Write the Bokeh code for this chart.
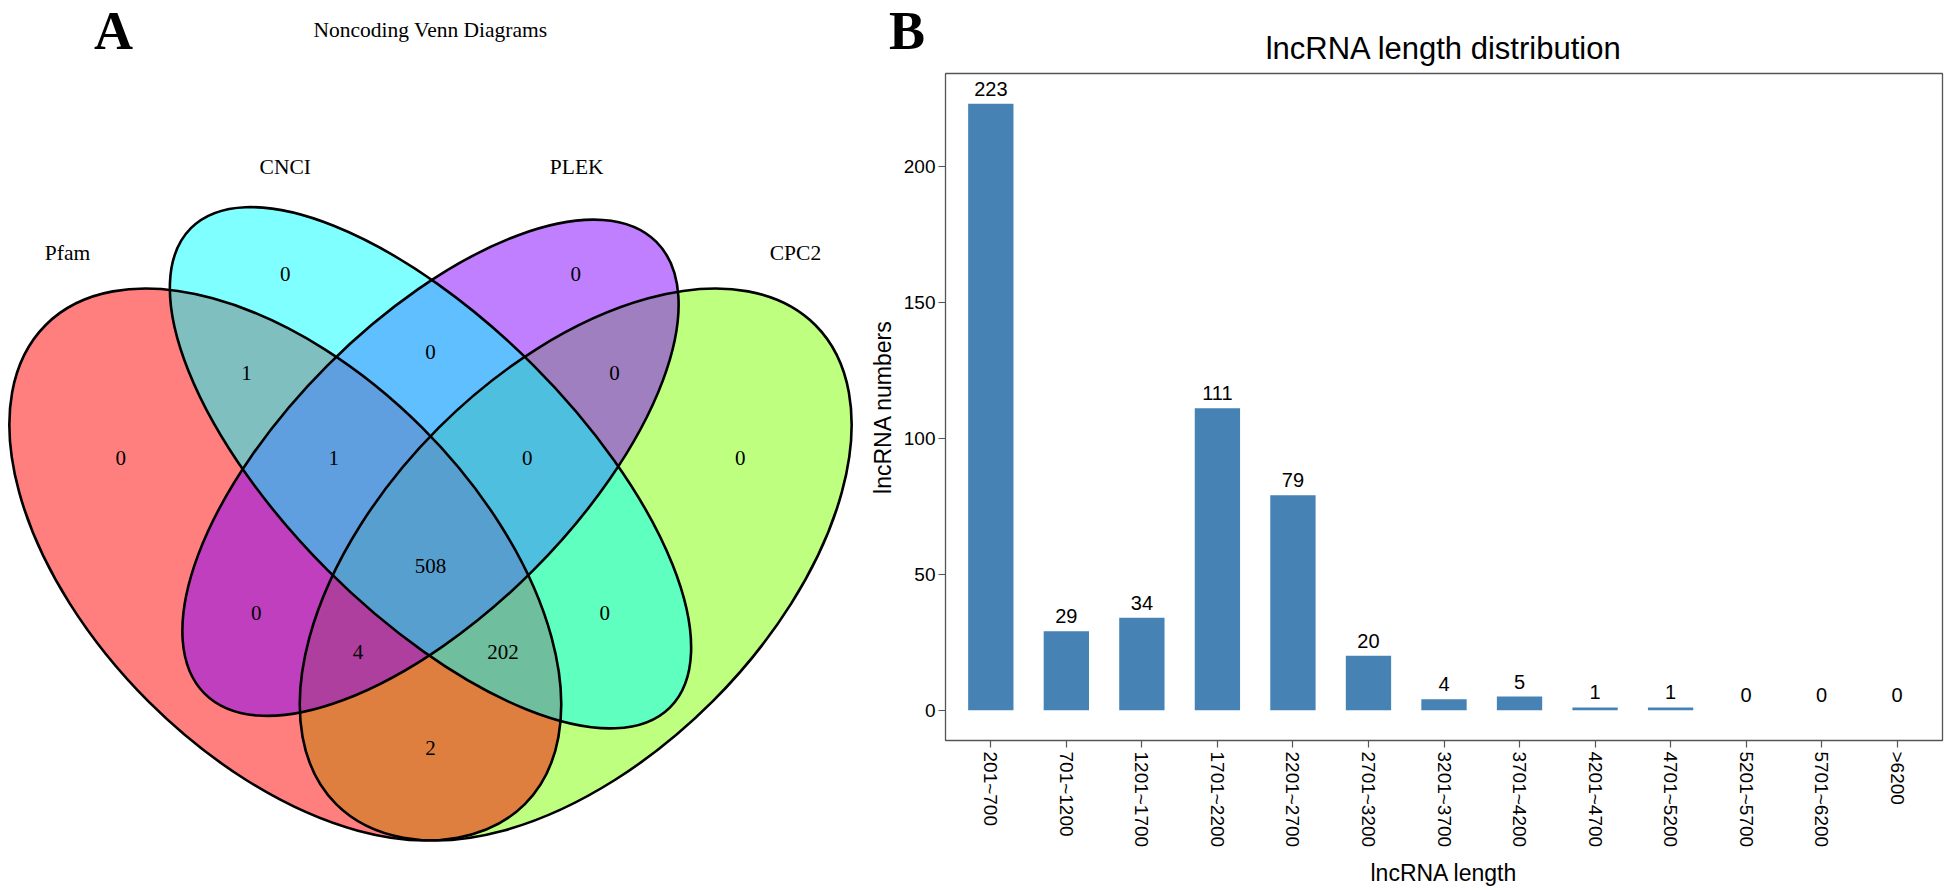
import math
from bokeh.plotting import figure
from bokeh.models import Range1d, FactorRange, FixedTicker, ColumnDataSource
from bokeh.embed import file_html
from bokeh.resources import INLINE
from bokeh.core.properties import value

# ---------------- data ----------------
venn_sets = ["Pfam", "CNCI", "PLEK", "CPC2"]
venn_colors = ["#FF0000", "#00FFFF", "#8000FF", "#80FF00"]
region_members = ["CNCI", "CNCI&PLEK", "PLEK", "Pfam&CNCI", "Pfam&CNCI&PLEK",
                  "Pfam&CNCI&PLEK&CPC2", "CNCI&PLEK&CPC2", "PLEK&CPC2", "Pfam",
                  "Pfam&PLEK", "Pfam&PLEK&CPC2", "Pfam&CPC2", "Pfam&CNCI&CPC2",
                  "CNCI&CPC2", "CPC2"]
region_counts = [0, 0, 0, 1, 1, 508, 0, 0, 0, 0, 4, 2, 202, 0, 0]

length_bins = ["201~700", "701~1200", "1201~1700", "1701~2200", "2201~2700",
               "2701~3200", "3201~3700", "3701~4200", "4201~4700", "4701~5200",
               "5201~5700", "5701~6200", ">6200"]
lncrna_counts = [223, 29, 34, 111, 79, 20, 4, 5, 1, 1, 0, 0, 0]
y_ticks = [0, 50, 100, 150, 200]

# ---------------- layout constants (VennDiagram quad layout, unit coords) ----------------
ellipse_geom = {  # x, y, a, b, rotation(deg)
    "Pfam": (0.35, 0.47, 0.35, 0.20, 135),
    "CNCI": (0.50, 0.57, 0.35, 0.15, 135),
    "PLEK": (0.50, 0.57, 0.33, 0.15, 45),
    "CPC2": (0.65, 0.47, 0.35, 0.20, 45),
}
draw_order = ["CPC2", "Pfam", "PLEK", "CNCI"]
region_pos = [(0.350, 0.770), (0.500, 0.690), (0.650, 0.770), (0.310, 0.668),
              (0.400, 0.580), (0.500, 0.468), (0.600, 0.580), (0.690, 0.668),
              (0.180, 0.580), (0.320, 0.420), (0.425, 0.380), (0.500, 0.280),
              (0.575, 0.380), (0.680, 0.420), (0.820, 0.580)]
cat_pos = {"Pfam": (0.125, 0.792), "CNCI": (0.350, 0.881),
           "PLEK": (0.651, 0.881), "CPC2": (0.877, 0.792)}

SERIF = value("Liberation Serif")
SANS = "Liberation Sans"
H = 889
LEFT_W = 935
OVERLAP = 82
RIGHT_W = 1092

# ---------------- Venn panel ----------------
pv = figure(width=LEFT_W, height=H, x_range=Range1d(0.05579, 1.02169),
            y_range=Range1d(0.13430, 1.05269), x_axis_type=None, y_axis_type=None,
            output_backend="svg", toolbar_location=None,
            min_border_left=0, min_border_right=0, min_border_top=0, min_border_bottom=0)
pv.grid.visible = False
pv.outline_line_color = None
pv.background_fill_color = "white"
pv.border_fill_color = "white"

col_of = dict(zip(venn_sets, venn_colors))
for s in draw_order:
    x, y, a, b, rot = ellipse_geom[s]
    pv.ellipse(x=[x], y=[y], width=[2 * a], height=[2 * b], angle=[math.radians(rot)],
               fill_color=col_of[s], fill_alpha=0.5, line_color=None)
for s in draw_order:
    x, y, a, b, rot = ellipse_geom[s]
    pv.ellipse(x=[x], y=[y], width=[2 * a], height=[2 * b], angle=[math.radians(rot)],
               fill_color=None, line_color="black", line_width=2.6)

rsrc = ColumnDataSource(dict(x=[p[0] for p in region_pos], y=[p[1] for p in region_pos],
                             t=[str(c) for c in region_counts]))
pv.text(x="x", y="y", text="t", source=rsrc, text_font=SERIF, text_font_size="21px",
        text_align="center", text_baseline="middle", text_color="black")
csrc = ColumnDataSource(dict(x=[cat_pos[s][0] for s in venn_sets],
                             y=[cat_pos[s][1] for s in venn_sets], t=venn_sets))
pv.text(x="x", y="y", text="t", source=csrc, text_font=SERIF, text_font_size="21.5px",
        text_align="center", text_baseline="middle", text_color="black")
pv.text(x=[0.5], y=[1.0217], text=["Noncoding Venn Diagrams"], text_font=SERIF,
        text_font_size="21.5px", text_align="center", text_baseline="middle",
        text_color="black")
# panel tags
pv.text(x=[0.1725, 0.99225], y=[1.0207, 1.0207], text=["A", "B"], text_font=SERIF,
        text_font_size="54px", text_font_style="bold", text_align="center",
        text_baseline="middle", text_color="black")

# ---------------- Bar panel ----------------
pb = figure(width=RIGHT_W, height=H,
            x_range=FactorRange(factors=length_bins, range_padding=0.1,
                                range_padding_units="absolute"),
            y_range=Range1d(-11.15, 234.15),
            output_backend="svg", toolbar_location=None,
            min_border_left=92, min_border_right=3, min_border_top=73,
            min_border_bottom=147, title="lncRNA length distribution",
            styles={"margin-left": f"-{OVERLAP}px"})
pb.title.text_font = SANS
pb.title.text_font_size = "31px"
pb.title.text_font_style = "normal"
pb.title.align = "center"
pb.title.text_color = "black"
pb.title.standoff = 16
pb.grid.visible = False
pb.outline_line_color = "#555555"
pb.outline_line_width = 1.3
pb.background_fill_color = "white"
pb.border_fill_color = None

bsrc = ColumnDataSource(dict(x=length_bins, top=lncrna_counts,
                             t=[str(v) for v in lncrna_counts]))
pb.vbar(x="x", top="top", bottom=0, width=0.6, source=bsrc,
        fill_color="#4682B4", line_color=None)
pb.text(x="x", y="top", text="t", source=bsrc, text_font=value(SANS),
        text_font_size="20px", text_align="center", text_baseline="middle",
        y_offset=-15, text_color="black")

for ax in (pb.xaxis[0], pb.yaxis[0]):
    ax.axis_line_color = None
    ax.major_tick_line_color = "#555555"
    ax.major_tick_line_width = 1.2
    ax.major_tick_in = 0
    ax.major_tick_out = 7
    ax.minor_tick_line_color = None
    ax.major_label_text_font = SANS
    ax.major_label_text_font_size = "19px"
    ax.major_label_text_color = "black"
    ax.axis_label_text_font = SANS
    ax.axis_label_text_font_size = "23px"
    ax.axis_label_text_font_style = "normal"
    ax.axis_label_text_color = "black"

pb.yaxis[0].ticker = FixedTicker(ticks=y_ticks)
pb.yaxis[0].major_label_standoff = 3
pb.yaxis[0].axis_label = "lncRNA numbers"
pb.yaxis[0].axis_label_standoff = 5
pb.xaxis[0].axis_label = "lncRNA length"
pb.xaxis[0].major_label_orientation = -math.pi / 2
pb.xaxis[0].major_label_standoff = 4
pb.xaxis[0].axis_label_standoff = 10

page_template = """
{% block postamble %}
<style>
html, body { margin: 0 !important; padding: 0 !important; background: white; }
body { display: flex !important; flex-direction: row; align-items: flex-start; overflow: hidden; }
</style>
{% endblock %}
"""

open("out.html", "w").write(file_html([pv, pb], INLINE, template=page_template))
